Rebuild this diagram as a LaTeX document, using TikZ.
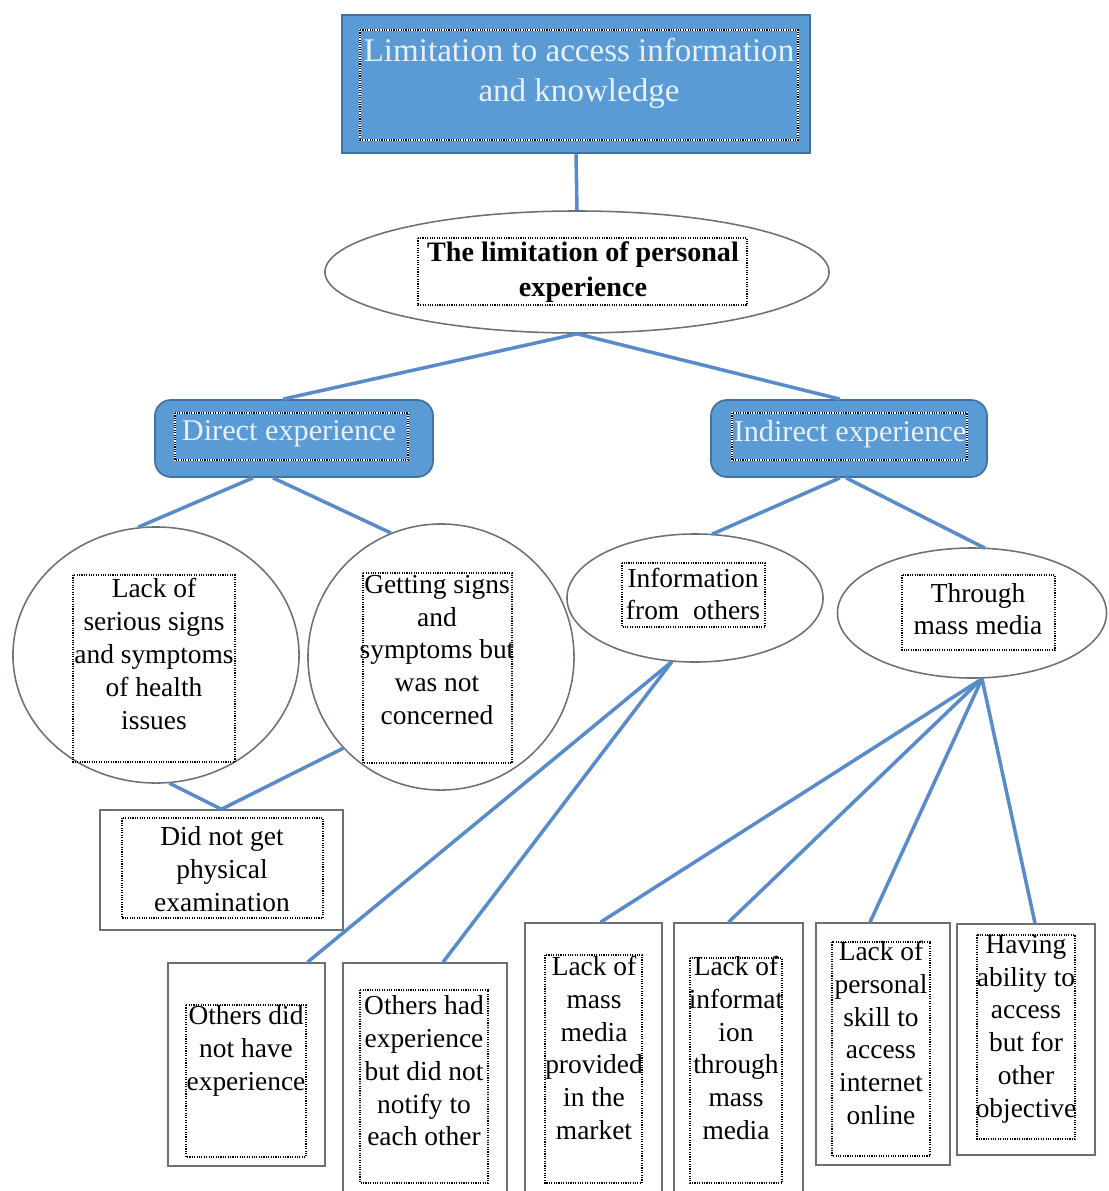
\documentclass[tikz,border=0pt]{standalone}
\usepackage{fontspec}
\setmainfont{Liberation Serif}
\usetikzlibrary{shapes.geometric,calc}
\definecolor{fillblue}{RGB}{91,155,213}
\definecolor{edgeblue}{RGB}{65,113,156}
\definecolor{lineblue}{RGB}{88,140,200}
\definecolor{edgegray}{RGB}{105,112,120}
\definecolor{paletext}{RGB}{232,241,251}
\tikzset{
  conn/.style={draw=lineblue, line width=2.5pt},
  bluebox/.style={draw=edgeblue, fill=fillblue, line width=1.2pt, inner sep=0pt},
  whitebox/.style={draw=edgegray, fill=white, line width=1.1pt, inner sep=0pt},
  oval/.style={ellipse, draw=edgegray, fill=white, line width=1.1pt, inner sep=0pt},
  dotbox/.style={draw=black, line width=0.8pt, dash pattern=on 0.8pt off 0.9pt},
  dotwhite/.style={draw=white, line width=0.8pt},
  body/.style={font=\fontsize{19.5}{23.3}\selectfont, align=center, inner sep=0pt},
  toptext/.style={font=\fontsize{23.5}{28.5}\selectfont, align=center, inner sep=0pt, text=paletext},
  midtext/.style={font=\fontsize{21.5}{26}\selectfont, align=center, inner sep=0pt, text=paletext},
  boldtext/.style={font=\bfseries\fontsize{20}{25}\selectfont, align=center, inner sep=0pt},
}
\begin{document}
\begin{tikzpicture}[x=0.025cm, y=-0.025cm]
\useasboundingbox (0,0) rectangle (1109,1191);
\clip (0,0) rectangle (1109,1191);

% shapes
\node[bluebox, minimum width=11.7cm, minimum height=3.45cm] (top) at (576,84) {};
\node[oval, minimum width=12.6cm, minimum height=3.05cm] (ell) at (577,272) {};
\node[bluebox, rounded corners=0.4cm, minimum width=6.95cm, minimum height=1.925cm] (direct) at (294,438.5) {};
\node[bluebox, rounded corners=0.4cm, minimum width=6.9cm, minimum height=1.925cm] (indirect) at (849,438.5) {};
\node[oval, minimum width=7.15cm, minimum height=6.4cm] (c1) at (156,655) {};
\node[oval, minimum width=6.65cm, minimum height=6.65cm] (c2) at (441,657) {};
\node[oval, minimum width=6.4cm, minimum height=3.2cm] (info) at (695,598) {};
\node[oval, minimum width=6.725cm, minimum height=3.25cm] (thru) at (972,613) {};
\node[whitebox, minimum width=6.075cm, minimum height=3cm] (didnot) at (221.5,870) {};
\node[whitebox, minimum width=3.925cm, minimum height=5.075cm] (odid) at (246.5,1064.5) {};
\node[whitebox, minimum width=4.1cm, minimum height=5.925cm] (ohad) at (425,1081.5) {};
\node[whitebox, minimum width=3.425cm, minimum height=6.925cm] (ba) at (593.5,1061.5) {};
\node[whitebox, minimum width=3.225cm, minimum height=6.925cm] (bb) at (738.5,1061.5) {};
\node[whitebox, minimum width=3.35cm, minimum height=6.05cm] (bc) at (883,1044) {};
\node[whitebox, minimum width=3.45cm, minimum height=5.775cm] (bd) at (1026,1039.5) {};

% dotted inner frames
\draw[dotwhite] (360,30) rectangle (798,140);
\draw[dotbox] (360,30) rectangle (798,140);
\draw[dotbox] (418,238) rectangle (747,305);
\draw[dotwhite] (175,413) rectangle (408,460);
\draw[dotbox] (175,413) rectangle (408,460);
\draw[dotwhite] (732,413) rectangle (967,460);
\draw[dotbox] (732,413) rectangle (967,460);
\draw[dotbox] (73,575) rectangle (235,762);
\draw[dotbox] (363,573) rectangle (512,763);
\draw[dotbox] (622,563) rectangle (765,627);
\draw[dotbox] (902,575) rectangle (1055,650);
\draw[dotbox] (122,818) rectangle (323,918);
\draw[dotbox] (186,1005) rectangle (306,1157);
\draw[dotbox] (360,990) rectangle (488,1183);
\draw[dotbox] (545,955) rectangle (642,1183);
\draw[dotbox] (690,958) rectangle (782,1183);
\draw[dotbox] (832,942) rectangle (930,1156);
\draw[dotbox] (977,935) rectangle (1075,1139);

% texts
\node[toptext] (ttop) at (579,73) {Limitation to access information\\and knowledge};
\node[boldtext] (tell) at (583,272) {The limitation of personal\\experience};
\node[midtext] (tdirect) at (289,434) {Direct experience};
\node[midtext] (tindirect) at (850,434) {Indirect experience};
\node[body] (tc1) at (154,654) {Lack of\\serious signs\\and symptoms\\of health\\issues};
\node[body] (tc2) at (437,650) {Getting signs\\and\\symptoms but\\was not\\concerned};
\node[body] (tinfo) at (693,594) {Information\\from\ \ others};
\node[body] (tthru) at (978,609) {Through\\mass media};
\node[body] (tdidnot) at (222,869) {Did not get\\physical\\examination};
\node[body] (todid) at (246,1051) {Others did\\not have\\experience};
\node[body] (tohad) at (424,1071) {Others had\\experience\\but did not\\notify to\\each other};
\node[body] (tba) at (594,1048) {Lack of\\mass\\media\\provided\\in the\\market};
\node[body] (tbb) at (736,1048) {Lack of\\informat\\ion\\through\\mass\\media};
\node[body] (tbc) at (881,1033) {Lack of\\personal\\skill to\\access\\internet\\online};
\node[body] (tbd) at (1026,1029) {Having\\ability to\\access\\but for\\other\\objective};

% connectors
\draw[conn] (top.south) -- (ell.north);
\draw[conn] (ell.south) -- ($(direct.north)+(-11,0)$);
\draw[conn] (ell.south) -- ($(indirect.north)+(-9,0)$);
\draw[conn] ($(direct.south)+(-41,0)$) -- (c1.98);
\draw[conn] ($(direct.south)+(-21,0)$) -- (c2.112);
\draw[conn] (c1.-84) -- (didnot.north);
\draw[conn] (c2.223) -- (didnot.north);
\draw[conn] ($(indirect.south)+(-9,0)$) -- ($(info.north)+(17,1)$);
\draw[conn] ($(indirect.south)+(-3,0)$) -- ($(thru.north)+(13,1)$);
\draw[conn] (info.250) -- ($(odid.north)+(61,0)$);
\draw[conn] (info.250) -- ($(ohad.north)+(18,0)$);
\draw[conn] ($(thru.south)+(10,0)$) -- ($(ba.north)+(7,0)$);
\draw[conn] ($(thru.south)+(10,0)$) -- ($(bb.north)+(-10,0)$);
\draw[conn] ($(thru.south)+(10,0)$) -- ($(bc.north)+(-13,0)$);
\draw[conn] ($(thru.south)+(10,0)$) -- ($(bd.north)+(9,0)$);
\end{tikzpicture}
\end{document}
